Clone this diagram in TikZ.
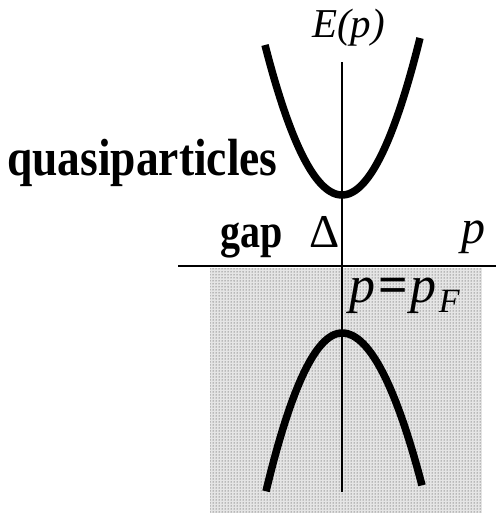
\documentclass[tikz,border=0pt]{standalone}
\usepackage{fontspec}
\usepackage{graphicx}
\setmainfont{Liberation Serif}
\usetikzlibrary{patterns}

\begin{document}
\begin{tikzpicture}[x=1pt,y=-1pt,
    axis/.style={line width=2.6pt},
    band/.style={line width=7.5pt},
    lbl/.style={anchor=base west,inner sep=0pt},
    sym/.style={font=\fontsize{48}{52}\selectfont\itshape}]
  \useasboundingbox (0,0) rectangle (496,515);
  % filled sea below the Fermi level
  \fill[black!10] (210,268) rectangle (482,513);
  \fill[pattern=dots,pattern color=black!85] (210,268) rectangle (482,513);
  % axes
  \coordinate (ytop) at (342,62);
  \coordinate (ybot) at (342,492);
  \coordinate (xl) at (178,266);
  \coordinate (xr) at (496,266);
  \draw[axis] (xl) -- (xr);
  \draw[axis] (ytop) -- (ybot);
  % branches
  \draw[band,domain=-77:78,samples=60,smooth]
    plot({342+\x},{195-(\x<0?0.0253:0.0258)*\x*\x});
  \draw[band,domain=-76:80,samples=60,smooth]
    plot({342+\x},{333+(\x<0?0.0274:0.0238)*\x*\x});
  % labels
  \node[lbl,font=\fontsize{41}{44}\selectfont\itshape] (Ep) at (312,37) {E(p)};
  \node[lbl,font=\fontsize{45.5}{50}\selectfont\bfseries] (quasi) at (7,175)
    {\scalebox{1}[1.15]{quasiparticles}};
  \node[lbl,font=\fontsize{40}{44}\selectfont\bfseries] (gap) at (220,247)
    {\scalebox{1}[1.2]{gap}};
  \node[lbl,font=\fontsize{47}{50}\selectfont] (Delta) at (309,247) {Δ};
  \node[lbl,sym] (pax) at (461,243) {p};
  \node[lbl,font=\fontsize{52}{56}\selectfont\itshape] (pF) at (349,302)
    {p\kern3pt{\upshape\bfseries=}\kern3pt p\kern2pt\raisebox{-0.21em}{\fontsize{34}{36}\selectfont F}};
\end{tikzpicture}
\end{document}
